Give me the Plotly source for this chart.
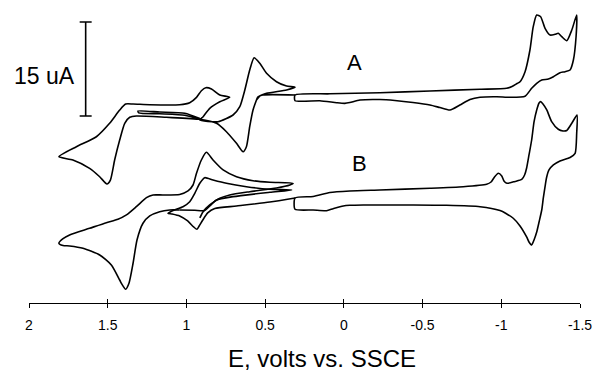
import plotly.graph_objects as go

# ---------------- data (E in volts vs SSCE, I in microamps) ----------------
# vertical offsets used to stack the two voltammograms
A_OFFSET = 32.39
B_OFFSET = 16.44

# Curve A: positive-potential scans (loop to 1.8 V)
a_loop_E = [0.31, 0.515, 0.547, 0.555, 0.577, 0.598, 0.619, 0.640, 0.682, 0.746,
            0.809, 0.915, 1.127, 1.318, 1.360, 1.392, 1.424, 1.456, 1.483, 1.505,
            1.551, 1.615, 1.721, 1.810, 1.699, 1.572, 1.488, 1.424, 1.386, 1.339,
            1.233, 1.043, 0.979, 0.936, 0.905, 0.877, 0.841, 0.788, 0.725, 0.788,
            0.852, 0.894, 0.915, 0.799, 0.704, 0.661, 0.629, 0.598, 0.570, 0.534,
            0.491, 0.428, 0.364, 0.31, 0.364, 0.491, 0.534, 0.555]
a_loop_I = [0.80, 0.80, 0.48, 0, -1.60, -4.26, -7.45, -8.25, -6.91, -5.06,
            -3.72, -3.08, -2.76, -2.55, -2.76, -3.72, -6.38, -9.57, -12.77, -13.40,
            -12.24, -10.90, -9.57, -9.05, -7.45, -5.86, -3.72, -1.60, -0.64, -0.64,
            -0.75, -0.75, -0.43, 0.43, 1.48, 1.96, 1.76, 0.80, 0.43, -0.27,
            -1.32, -2.66, -3.19, -3.46, -2.39, -1.07, 1.60, 4.79, 6.75, 5.86,
            4.26, 2.92, 2.23, 2.03, 1.60, 1.07, 0.64, 0]

# Curve A: short scan reversed at 1.31 V
a_inner_E = [0.915, 1.011, 1.170, 1.308, 1.303, 1.170, 1.011, 0.915]
a_inner_I = [-2.95, -2.12, -1.92, -1.76, -2.04, -2.20, -2.44, -3.08]

# Curve A: negative scan to -1.5 V
a_neg_E = [0.31, 0.089, -0.229, -0.547, -0.865, -1.034, -1.068, -1.100, -1.119, -1.151,
           -1.182, -1.203, -1.225, -1.250, -1.278, -1.310, -1.341, -1.362, -1.384, -1.416,
           -1.448, -1.479, -1.475, -1.458, -1.437, -1.405, -1.373, -1.331, -1.299, -1.257,
           -1.225, -1.193, -1.151, -1.055, -0.971, -0.865, -0.801, -0.737, -0.674, -0.610,
           -0.547, -0.439, -0.324, -0.229, -0.102, -0.038, -0.006, 0.046, 0.153, 0.31, 0.31]
a_neg_I = [0.80, 0.99, 1.16, 1.44, 1.71, 1.87, 2.15, 2.63, 2.92, 4.52,
           7.98, 11.70, 13.56, 13.29, 11.44, 10.37, 10.48, 10.64, 10.10, 9.46,
           11.17, 13.56, 10.10, 6.38, 4.79, 4.52, 4.36, 3.72, 3.35, 3.19,
           2.66, 1.87, 0.61, 0.43, 0.53, 0.45, 0.08, -0.80, -1.60, -1.20,
           -0.80, -0.40, -0.08, 0.08, 0, -0.40, -0.53, -0.43, -0.11, -0.11, 0.80]

# Curve B: short scan reversed at 1.12 V
b_s1_E = [0.31, 0.470, 0.682, 0.820, 0.865, 0.896, 0.919, 0.933, 0.954, 0.992,
          1.043, 1.093, 1.117, 1.085, 1.022, 0.979, 0.947, 0.915, 0.884, 0.831,
          0.746, 0.619, 0.470, 0.331, 0.470, 0.704, 0.809, 0.852, 0.884, 0.947, 1.043]
b_s1_I = [0.32, -0.32, -0.96, -1.36, -2.07, -3.19, -4.15, -4.68, -4.31, -3.35,
          -2.55, -2.23, -2.12, -1.68, -1.07, -0.27, 1.07, 2.66, 3.56, 3.19,
          2.66, 2.12, 1.71, 1.60, 1.23, 0.53, 0, -0.96, -1.68, -1.64, -1.60]

# Curve B: loop to 1.8 V
b_big_E = [1.043, 1.106, 1.170, 1.233, 1.276, 1.314, 1.339, 1.365, 1.386, 1.411,
           1.424, 1.477, 1.551, 1.657, 1.742, 1.784, 1.810, 1.786, 1.742, 1.615,
           1.509, 1.435, 1.381, 1.318, 1.254, 1.212, 1.149, 1.043, 0.990, 0.958,
           0.936, 0.905, 0.873, 0.831, 0.767, 0.682, 0.577, 0.470, 0.322, 0.343,
           0.428, 0.598, 0.725, 0.788, 0.852, 0.894, 0.915]
b_big_I = [-1.60, -1.60, -1.87, -2.55, -3.72, -6.38, -10.10, -13.29, -14.25, -13.40,
           -12.77, -10.37, -8.78, -7.71, -7.34, -7.26, -6.91, -6.22, -5.59, -4.52,
           -3.62, -3.08, -2.39, -1.07, 0.37, 0.80, 0.80, 0.88, 1.44, 2.39,
           4.26, 6.38, 7.61, 6.38, 4.79, 3.72, 3.08, 2.82, 2.66, 2.39,
           1.91, 1.32, 0.80, 0.27, -0.80, -1.87, -2.87]

# Curve B: negative scan to -1.5 V
b_neg_E = [0.31, 0.195, 0.089, -0.038, -0.229, -0.547, -0.758, -0.907, -0.935, -0.957,
           -0.981, -1.003, -1.017, -1.036, -1.087, -1.130, -1.148, -1.161, -1.176, -1.193,
           -1.208, -1.225, -1.240, -1.250, -1.265, -1.289, -1.320, -1.362, -1.392, -1.416,
           -1.448, -1.481, -1.479, -1.469, -1.437, -1.373, -1.331, -1.303, -1.287, -1.278,
           -1.267, -1.257, -1.240, -1.225, -1.208, -1.193, -1.176, -1.161, -1.119, -1.076,
           -1.030, -0.992, -0.865, -0.653, -0.441, -0.123, -0.038, 0.004, 0.068, 0.110,
           0.195, 0.31, 0.31]
b_neg_I = [0.32, 0.56, 1.20, 1.44, 1.60, 1.87, 2.12, 2.51, 2.87, 3.67,
           4.26, 3.83, 3.03, 2.66, 2.95, 3.27, 3.99, 5.11, 7.18, 9.57,
           12.45, 14.36, 15.48, 15.69, 15.32, 14.36, 12.50, 11.28, 11.01, 11.09,
           12.24, 13.56, 10.64, 7.45, 6.78, 6.22, 5.59, 4.79, 3.51, 2.12,
           0.32, -1.60, -3.51, -5.11, -6.38, -7.18, -6.70, -5.90, -4.15, -2.92,
           -2.15, -1.68, -1.07, -0.85, -0.80, -0.80, -0.85, -0.96, -1.39, -1.71,
           -1.60, -1.48, 0.32]

tick_vals = [2, 1.5, 1, 0.5, 0, -0.5, -1, -1.5]
tick_text = ["2", "1.5", "1", "0.5", "0", "-0.5", "-1", "-1.5"]

# scale bar: 15 uA
scale_E = 1.64
scale_center = 37.34
scale_len = 15.0

FONT = "Liberation Sans, Arial, sans-serif"
LINE = dict(color="black", width=1.6, shape="spline", smoothing=0.6)

fig = go.Figure()

for E, I, off in [(a_loop_E, a_loop_I, A_OFFSET), (a_inner_E, a_inner_I, A_OFFSET),
                  (a_neg_E, a_neg_I, A_OFFSET), (b_s1_E, b_s1_I, B_OFFSET),
                  (b_big_E, b_big_I, B_OFFSET), (b_neg_E, b_neg_I, B_OFFSET)]:
    fig.add_trace(go.Scatter(x=E, y=[v + off for v in I], mode="lines",
                             line=LINE, hoverinfo="skip"))

# scale bar drawn as an error bar
fig.add_trace(go.Scatter(x=[scale_E], y=[scale_center], mode="markers",
                         marker=dict(size=1, color="rgba(0,0,0,0)"),
                         error_y=dict(type="constant", value=scale_len / 2, color="black",
                                      thickness=1.6, width=6),
                         xaxis="x2", hoverinfo="skip"))

fig.add_annotation(x=1.90, y=36.2, text="15 uA", showarrow=False,
                   font=dict(family=FONT, size=23, color="black"))
fig.add_annotation(x=-0.07, y=38.3, text="A", showarrow=False,
                   font=dict(family=FONT, size=22, color="black"))
fig.add_annotation(x=-0.10, y=22.2, text="B", showarrow=False,
                   font=dict(family=FONT, size=22, color="black"))
fig.add_annotation(xref="paper", yref="paper", x=0.532, y=-0.182,
                   xanchor="center", yanchor="middle",
                   text="E, volts vs. SSCE", showarrow=False,
                   font=dict(family=FONT, size=24, color="black"))

fig.update_layout(
    width=594, height=381,
    margin=dict(l=29, r=14, t=0, b=78),
    paper_bgcolor="white", plot_bgcolor="white",
    showlegend=False,
    xaxis=dict(range=[2, -1.5], tickvals=tick_vals, ticktext=tick_text,
               showline=True, linecolor="black", linewidth=1.4,
               ticks="outside", ticklen=4, tickwidth=1.4, tickcolor="black",
               showgrid=False, zeroline=False, ticklabelstandoff=5,
               tickfont=dict(family=FONT, size=14, color="black")),
    xaxis2=dict(range=[2, -1.5], overlaying="x", anchor="y", side="bottom",
                tickvals=tick_vals, showticklabels=False,
                ticks="inside", ticklen=4, tickwidth=1.4, tickcolor="black",
                showline=False, showgrid=False, zeroline=False),
    yaxis=dict(range=[0, 48.35], visible=False, fixedrange=True),
)

fig.write_html("out.html")
